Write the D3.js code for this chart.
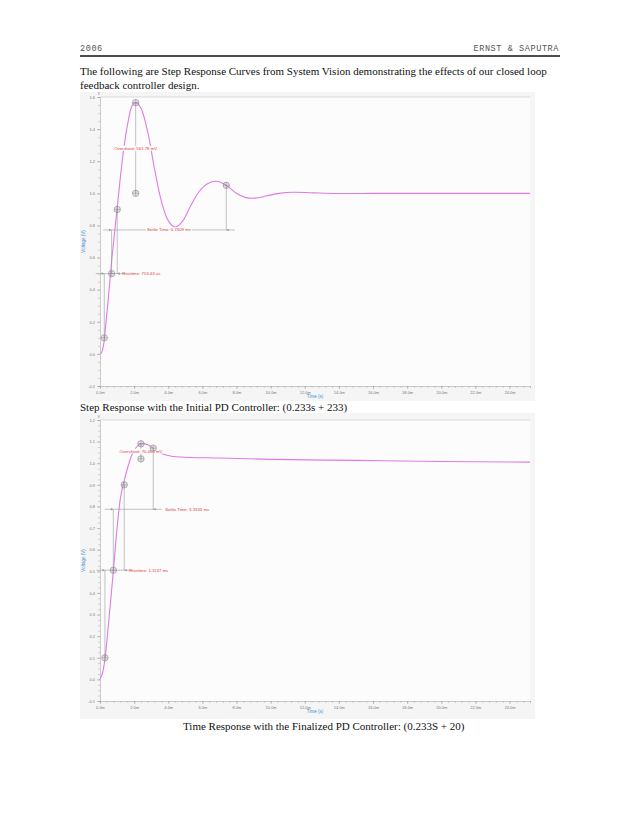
<!DOCTYPE html>
<html>
<head>
  <meta charset='utf-8'>
  <title>Step Response Curves</title>
  <script src='https://cdn.jsdelivr.net/npm/d3@7/dist/d3.min.js'></script>
  <style type='text/css'>
    body { margin: 0; background: #fff; }
    svg text { font-family: 'Liberation Sans', Arial, sans-serif; }
    .serif { font-family: 'Liberation Serif', 'Times New Roman', serif !important; }
    .mono { font-family: 'Liberation Mono', 'Courier New', monospace !important; }
  </style>
</head>
<body>
<div id='page'></div>
<script>
// time axis (ms) shared by both plots
const xTicks = [0, 2, 4, 6, 8, 10, 12, 14, 16, 18, 20, 22, 24];
const yTicksInitial = [-0.2, 0.0, 0.2, 0.4, 0.6, 0.8, 1.0, 1.2, 1.4, 1.6];
const yTicksFinal = [-0.1, 0.0, 0.1, 0.2, 0.3, 0.4, 0.5, 0.6, 0.7, 0.8, 0.9, 1.0, 1.1, 1.2];

// step response, initial PD controller: [time ms, volts]
const responseInitial = [
  [0, 0], [0.1, 0.01], [0.2, 0.05], [0.3, 0.14], [0.5, 0.36], [0.7, 0.6],
  [1.0, 0.9], [1.3, 1.2], [1.6, 1.42], [1.9, 1.55], [2.1, 1.565], [2.4, 1.53],
  [2.8, 1.38], [3.2, 1.15], [3.6, 0.95], [4.0, 0.83], [4.4, 0.79], [4.8, 0.82],
  [5.3, 0.92], [5.8, 1.01], [6.3, 1.06], [6.8, 1.075], [7.4, 1.05], [8.0, 1.0],
  [8.5, 0.975], [9.1, 0.97], [9.8, 0.985], [10.5, 1.0], [11.3, 1.007],
  [12.5, 1.003], [14, 0.999], [16, 1.0], [20, 1.0], [25.2, 1.0]
];
// time response, finalized PD controller
const responseFinal = [
  [0, 0], [0.15, 0.03], [0.3, 0.1], [0.5, 0.26], [0.78, 0.5], [1.0, 0.7],
  [1.2, 0.84], [1.42, 0.92], [1.7, 1.0], [2.0, 1.06], [2.4, 1.09], [2.8, 1.085],
  [3.1, 1.07], [3.6, 1.045], [4.2, 1.032], [5, 1.028], [7, 1.024], [10, 1.018],
  [15, 1.013], [20, 1.008], [25.2, 1.005]
];

const annotInitial = {
  overshoot: { t: 2.09, top: 1.565, base: 1.0, label: 'Overshoot:  561.78 mV', labelV: 1.28 },
  rise: { t0: 0.25, v0: 0.1, t1: 1.01, v1: 0.9, mid: 0.5, tMid: 0.68, label: 'Risetime:  753.43 us' },
  settle: { t0: 0.68, t1: 7.4, vEnd: 1.05, level: 0.772, label: 'Settle Time:  6.7409 ms', centered: true }
};
const annotFinal = {
  overshoot: { t: 2.4, top: 1.09, base: 1.02, label: 'Overshoot:  70.464 mV', labelV: 1.056 },
  rise: { t0: 0.29, v0: 0.1, t1: 1.42, v1: 0.9, mid: 0.505, tMid: 0.78, label: 'Risetime:  1.1137 ms' },
  settle: { t0: 0.78, t1: 3.12, vEnd: 1.07, level: 0.787, label: 'Settle Time:  3.3333 ms', centered: false }
};

const W = 638, H = 826;
const svg = d3.select('#page').append('svg').attr('width', W).attr('height', H);

// page header
svg.append('text').attr('class', 'mono').attr('x', 80).attr('y', 51)
  .attr('font-size', 8.5).attr('letter-spacing', 0.6).attr('fill', '#555').text('2006');
svg.append('text').attr('class', 'mono').attr('x', 559).attr('y', 51)
  .attr('text-anchor', 'end').attr('font-size', 8.5).attr('letter-spacing', 0.6)
  .attr('fill', '#555').text('ERNST & SAPUTRA');
svg.append('line').attr('x1', 80).attr('x2', 560).attr('y1', 56).attr('y2', 56)
  .attr('stroke', '#111').attr('stroke-width', 1.3);
svg.append('text').attr('class', 'serif').attr('x', 80).attr('y', 74.5).attr('font-size', 11)
  .attr('fill', '#111')
  .text('The following are Step Response Curves from System Vision demonstrating the effects of our closed loop');
svg.append('text').attr('class', 'serif').attr('x', 80).attr('y', 88.5).attr('font-size', 11)
  .attr('fill', '#111').text('feedback controller design.');

svg.append('text').attr('class', 'serif').attr('x', 80).attr('y', 411).attr('font-size', 11)
  .attr('fill', '#111').text('Step Response with the Initial PD Controller: (0.233s + 233)');
svg.append('text').attr('class', 'serif').attr('x', 183).attr('y', 730).attr('font-size', 11)
  .attr('fill', '#111').text('Time Response with the Finalized PD Controller: (0.233S + 20)');

function drawPlot(box, yTicks, yMinor, data, ann) {
  const g = svg.append('g');
  g.append('rect').attr('x', box.x0).attr('y', box.y0)
    .attr('width', box.x1 - box.x0).attr('height', box.y1 - box.y0).attr('fill', '#f5f5f5');

  const x = d3.scaleLinear().domain([0, 25.2]).range([100, 530]);
  const y = d3.scaleLinear().domain(d3.extent(yTicks)).range([box.pb, box.pt]);

  g.append('rect').attr('x', 100).attr('y', box.pt).attr('width', 430)
    .attr('height', box.pb - box.pt).attr('fill', '#fcfcfc');
  g.append('line').attr('x1', 100).attr('x2', 530).attr('y1', box.pt).attr('y2', box.pt)
    .attr('stroke', '#c8c8c8').attr('stroke-width', 0.6);

  // x axis with minor ticks
  const xMinor = d3.range(0, 25.21, 0.4);
  g.append('g').attr('transform', `translate(0, ${box.pb})`)
    .call(d3.axisBottom(x).tickValues(xMinor).tickSize(2).tickFormat(''))
    .call(a => a.select('.domain').attr('stroke', '#aaa').attr('stroke-width', 0.6))
    .call(a => a.selectAll('.tick line').attr('stroke', '#aaa').attr('stroke-width', 0.5));
  g.append('g').attr('transform', `translate(0, ${box.pb})`)
    .call(d3.axisBottom(x).tickValues(xTicks).tickSize(3).tickPadding(2)
      .tickFormat(d => d.toFixed(1) + 'm'))
    .call(a => a.select('.domain').remove())
    .call(a => a.selectAll('.tick line').attr('stroke', '#999').attr('stroke-width', 0.5))
    .call(a => a.selectAll('.tick text').attr('font-size', 4).attr('fill', '#777')
      .attr('font-family', 'Liberation Sans, Arial, sans-serif'));

  // y axis with minor ticks
  const [lo, hi] = d3.extent(yTicks);
  g.append('g').attr('transform', 'translate(100, 0)')
    .call(d3.axisLeft(y).tickValues(d3.range(lo, hi + 1e-9, yMinor)).tickSize(2).tickFormat(''))
    .call(a => a.select('.domain').attr('stroke', '#aaa').attr('stroke-width', 0.6))
    .call(a => a.selectAll('.tick line').attr('stroke', '#aaa').attr('stroke-width', 0.5));
  g.append('g').attr('transform', 'translate(100, 0)')
    .call(d3.axisLeft(y).tickValues(yTicks).tickSize(3).tickPadding(2)
      .tickFormat(d => Math.abs(d) < 1e-9 ? '0.0' : d.toFixed(1)))
    .call(a => a.select('.domain').remove())
    .call(a => a.selectAll('.tick line').attr('stroke', '#999').attr('stroke-width', 0.5))
    .call(a => a.selectAll('.tick text').attr('font-size', 4).attr('fill', '#777')
      .attr('font-family', 'Liberation Sans, Arial, sans-serif'));

  g.append('text').attr('x', 99).attr('y', box.pt - 2.5).attr('font-size', 3.5)
    .attr('fill', '#d050d0').attr('text-anchor', 'middle').text('V');
  g.append('text').attr('transform', `translate(85, ${(box.pt + box.pb) / 2}) rotate(-90)`)
    .attr('text-anchor', 'middle').attr('font-size', 4.5).attr('fill', '#3b8fd3').text('Voltage (V)');
  g.append('text').attr('x', x(12.6)).attr('y', box.pb + 12).attr('text-anchor', 'middle')
    .attr('font-size', 4.5).attr('fill', '#3b8fd3').text('Time (s)');

  // response curve
  g.append('path').datum(data)
    .attr('d', d3.line().x(d => x(d[0])).y(d => y(d[1])).curve(d3.curveCatmullRom))
    .attr('fill', 'none').attr('stroke', '#e07ae6').attr('stroke-width', 1.1);

  // annotation helpers
  const grey = '#9a9a9a', red = '#e23b3b';
  const seg = (t0, v0, t1, v1) => g.append('line')
    .attr('x1', x(t0)).attr('y1', y(v0)).attr('x2', x(t1)).attr('y2', y(v1))
    .attr('stroke', grey).attr('stroke-width', 0.6);
  const arrow = (t, v, dir) => g.append('path')
    .attr('d', `M${x(t)},${y(v)} l${-dir * 2.5},-1.3 l0,2.6 z`).attr('fill', grey);
  const marker = (t, v) => {
    const cx = x(t), cy = y(v);
    g.append('circle').attr('cx', cx).attr('cy', cy).attr('r', 3.2)
      .attr('fill', 'rgba(160,160,160,0.25)').attr('stroke', '#8a8a8a').attr('stroke-width', 0.6);
    g.append('path').attr('d', `M${cx - 3.2},${cy}h6.4M${cx},${cy - 3.2}v6.4`)
      .attr('stroke', '#8a8a8a').attr('stroke-width', 0.5);
  };
  const label = (px, py, text, anchor) => g.append('text').attr('x', px).attr('y', py + 1.5)
    .attr('text-anchor', anchor).attr('font-size', 4.3).attr('fill', red).text(text);
  // label sitting on a line gets a small backing so the line breaks around it
  const backedLabel = (px, py, text) => {
    const t = label(px, py, text, 'middle');
    const b = t.node().getBBox();
    g.append('rect').attr('x', b.x - 1).attr('y', b.y)
      .attr('width', b.width + 2).attr('height', b.height).attr('fill', '#fcfcfc');
    t.raise();
  };

  // overshoot
  const os = ann.overshoot;
  seg(os.t, os.top, os.t, os.base);
  marker(os.t, os.top);
  marker(os.t, os.base);
  backedLabel(x(os.t), y(os.labelV), os.label);

  // rise time
  const r = ann.rise;
  seg(r.t0, r.v0, r.t0, r.mid);
  seg(r.t1, r.v1, r.t1, r.mid);
  seg(r.t0 - 0.5, r.mid, r.t1 + 0.5, r.mid);
  arrow(r.t0, r.mid, 1);
  arrow(r.t1, r.mid, -1);
  marker(r.t0, r.v0);
  marker(r.t1, r.v1);
  marker(r.tMid, r.mid);
  label(x(r.t1 + 0.3), y(r.mid), r.label, 'start');

  // settle time
  const s = ann.settle;
  seg(s.t0, r.mid, s.t0, s.level);
  seg(s.t1, s.vEnd, s.t1, s.level);
  seg(s.t0 - 0.5, s.level, s.t1 + 0.5, s.level);
  arrow(s.t0, s.level, 1);
  arrow(s.t1, s.level, -1);
  marker(s.t1, s.vEnd);
  if (s.centered) {
    backedLabel(x((s.t0 + s.t1) / 2), y(s.level), s.label);
  } else {
    label(x(s.t1 + 0.7), y(s.level), s.label, 'start');
  }
}

drawPlot({ x0: 80, x1: 535, y0: 92, y1: 401, pt: 97, pb: 386 },
  yTicksInitial, 0.05, responseInitial, annotInitial);
drawPlot({ x0: 80, x1: 535, y0: 413, y1: 719, pt: 420, pb: 701 },
  yTicksFinal, 0.025, responseFinal, annotFinal);
</script>
</body>
</html>
